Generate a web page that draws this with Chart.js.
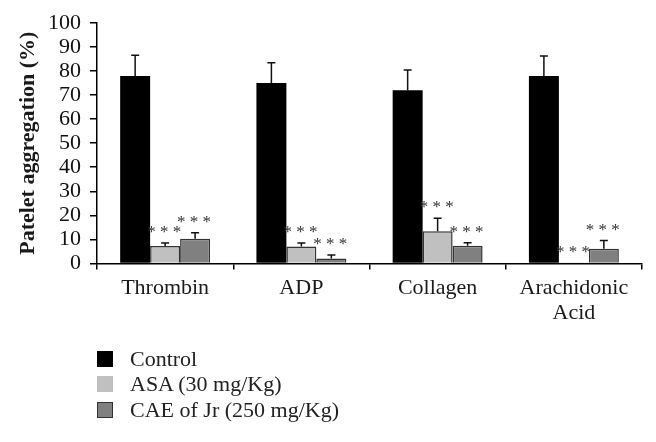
<!DOCTYPE html>
<html>
<head>
<meta charset="utf-8">
<script src="https://cdn.jsdelivr.net/npm/chart.js@4"></script>
<style>
  body { margin: 0; background: #fff; }
  #wrap { position: relative; width: 656px; height: 442px; }
  #legend { position: absolute; left: 97px; top: 346px; font-family: "Liberation Serif", serif; font-size: 22px; color: #222; }
  .row { display: flex; align-items: center; height: 25.5px; }
  .box { width: 16px; height: 16px; margin-right: 17px; box-sizing: border-box; }
</style>
</head>
<body>
<div id="wrap">
  <canvas id="chart" width="656" height="442"></canvas>
  <div id="legend"></div>
</div>
<script>
const categories = ["Thrombin", "ADP", "Collagen", ["Arachidonic", "Acid"]];
const seriesNames = ["Control", "ASA (30 mg/Kg)", "CAE of Jr (250 mg/Kg)"];
const control = [78, 75, 72, 78];
const controlErr = [8.6, 8.5, 8.4, 8.3];
const asa = [7.2, 7, 13.4, 0.2];
const asaErr = [1.3, 1.5, 5.4, 0];
const cae = [10.3, 2, 7.3, 6.1];
const caeErr = [2.4, 1.5, 1.3, 3.4];
const stars = [[false, false, false, false], [true, true, true, true], [true, true, true, true]];

const fills = ["#000000", "#c0c0c0", "#808080"];
const borders = ["#000000", "#333333", "#333333"];
const errs = [controlErr, asaErr, caeErr];

const errorBars = {
  id: "errorBars",
  afterDatasetsDraw(chart) {
    const ctx = chart.ctx;
    const y = chart.scales.y;
    chart.data.datasets.forEach((ds, i) => {
      const meta = chart.getDatasetMeta(i);
      meta.data.forEach((bar, j) => {
        const e = errs[i][j];
        const top = y.getPixelForValue(ds.data[j] + e);
        ctx.save();
        ctx.strokeStyle = "#111";
        ctx.lineWidth = 1.5;
        if (e > 0) {
          ctx.beginPath();
          ctx.moveTo(bar.x, bar.y);
          ctx.lineTo(bar.x, top);
          ctx.moveTo(bar.x - 4, top);
          ctx.lineTo(bar.x + 4, top);
          ctx.stroke();
        }
        if (stars[i][j]) {
          ctx.fillStyle = "#333";
          ctx.font = "17px 'Liberation Serif', serif";
          ctx.textAlign = "center";
          ctx.textBaseline = "alphabetic";
          ctx.fillText("* * *", bar.x - 1, top - 6);
        }
        ctx.restore();
      });
    });
  }
};

const data = {
  labels: categories,
  datasets: [
    { label: seriesNames[0], data: control, backgroundColor: fills[0], borderColor: borders[0], borderWidth: 0 },
    { label: seriesNames[1], data: asa, backgroundColor: fills[1], borderColor: borders[1], borderWidth: 1.5 },
    { label: seriesNames[2], data: cae, backgroundColor: fills[2], borderColor: borders[2], borderWidth: 1.5 },
  ],
};

const config = {
  type: "bar",
  data: data,
  options: {
    responsive: false,
    animation: false,
    layout: { padding: { top: 23, right: 14, bottom: 110, left: 15 } },
    datasets: { bar: { categoryPercentage: 0.66, barPercentage: 1 } },
    plugins: {
      legend: { display: false },
      tooltip: { enabled: false },
    },
    scales: {
      x: {
        grid: { drawOnChartArea: false, drawTicks: true, tickLength: 6, color: "#000", lineWidth: 1.5 },
        border: { color: "#000", width: 1.5 },
        ticks: { color: "#1a1a1a", font: { family: "Liberation Serif", size: 22, lineHeight: 1.15 }, padding: 6, maxRotation: 0 },
      },
      y: {
        min: 0,
        max: 100,
        afterFit(scale) { scale.width = 82; },
        grid: { drawOnChartArea: false, drawTicks: true, tickLength: 7, color: "#000", lineWidth: 1.5 },
        border: { color: "#000", width: 1.5 },
        ticks: { stepSize: 10, autoSkip: false, color: "#111", font: { family: "Liberation Serif", size: 22, lineHeight: 1 }, padding: 9 },
        title: {
          display: true,
          text: "Patelet aggregation (%)",
          color: "#1a1a1a",
          font: { family: "Liberation Serif", size: 22, weight: "bold" },
          padding: { top: 0, bottom: 2 },
        },
      },
    },
  },
  plugins: [errorBars],
};

const chart = new Chart(document.getElementById("chart"), config);

const legend = document.getElementById("legend");
seriesNames.forEach((name, i) => {
  const row = document.createElement("div");
  row.className = "row";
  const box = document.createElement("span");
  box.className = "box";
  box.style.background = fills[i];
  if (i === 2) box.style.border = "1.5px solid #333";
  row.appendChild(box);
  row.appendChild(document.createTextNode(name));
  legend.appendChild(row);
});
</script>
</body>
</html>
